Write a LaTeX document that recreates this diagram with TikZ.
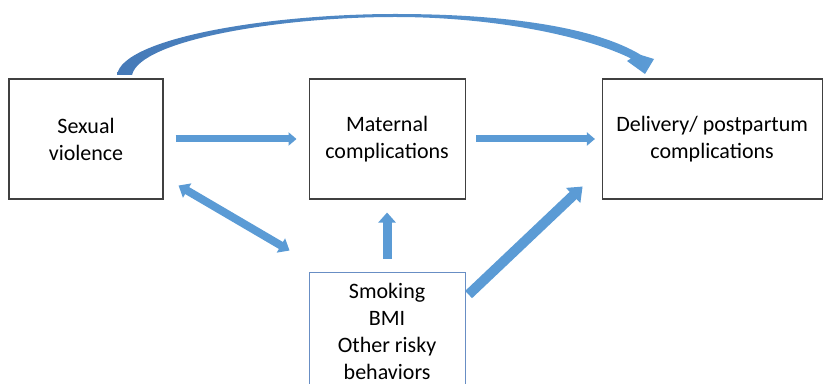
\documentclass[tikz,border=0pt]{standalone}
\usepackage{fontspec}
\setmainfont{Carlito}
\usetikzlibrary{arrows.meta,positioning}
\definecolor{boxline}{RGB}{64,64,64}
\definecolor{riskline}{RGB}{104,142,196}
\definecolor{arrowblue}{RGB}{91,155,213}
\definecolor{arrowdark}{RGB}{70,122,184}

\begin{document}
\begin{tikzpicture}[
    x=0.75pt, y=-0.75pt,
    node distance=54pt and 108.75pt,
    stage/.style={rectangle, draw=boxline, line width=0.8pt, minimum height=90pt, align=center, font=\fontsize{16.5}{20.25}\selectfont},
    risk/.style={rectangle, draw=riskline, line width=0.8pt, minimum width=117pt, minimum height=88.5pt, align=center, font=\fontsize{16.5}{20.25}\selectfont},
    flow/.style={draw=arrowblue, line width=5.25pt, -{Triangle[width=9.75pt, length=6pt]}},
    twoway/.style={draw=arrowblue, line width=6pt, {Triangle[width=12pt, length=7.5pt]}-{Triangle[width=12pt, length=7.5pt]}},
    lift/.style={draw=arrowblue, line width=6.75pt, -{Triangle[width=12.75pt, length=7.5pt]}},
    push/.style={draw=arrowblue, line width=7.5pt, -{Triangle[width=15pt, length=9.75pt]}}
]
\useasboundingbox (0,0) rectangle (829,384);

% Exposure, mediator and outcome
\node[stage, minimum width=115.5pt] at (86,139) (violence) {Sexual\\violence};
\node[stage, minimum width=117pt, right=of violence] (maternal) {Maternal\\complications};
\node[stage, minimum width=165pt, right=102pt of maternal] (delivery) {Delivery/ postpartum\\complications};

% Behaviours
\node[risk, below=of maternal] (behaviors) {Smoking\\BMI\\Other risky\\behaviors};

% Arrows
\draw[flow, shorten <=9pt, shorten >=9pt] (violence) -- (maternal);
\draw[flow, shorten <=8pt, shorten >=5pt] (maternal) -- (delivery);
\draw[twoway] ([shift={(11.25pt,10.5pt)}]violence.south east) -- ([shift={(-14.25pt,15.75pt)}]behaviors.north west);
\draw[lift, shorten <=9.75pt, shorten >=9.75pt] (behaviors) -- (maternal);
\draw[push] ([shift={(2.25pt,-17.25pt)}]behaviors.north east) -- ([shift={(-14.25pt,9.75pt)}]delivery.south west);

% Direct effect
\shade[left color=arrowdark, right color=arrowblue]
  (117,75) .. controls (122,38) and (270,14) .. (395,14)
  .. controls (505,14) and (595,27) .. (641,55)
  -- (654,59) -- (645,74) -- (627,61) -- (631,58.5)
  .. controls (590,38) and (500,17) .. (395,17)
  .. controls (280,17) and (140,40) .. (132,75) -- cycle;

\end{tikzpicture}
\end{document}
